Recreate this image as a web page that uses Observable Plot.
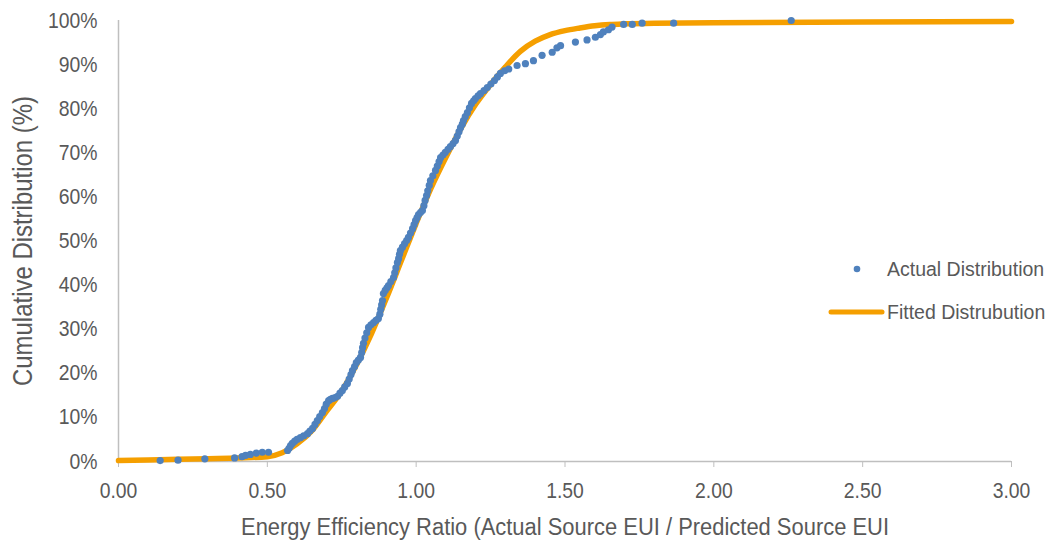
<!DOCTYPE html>
<html>
<head>
<meta charset="utf-8">
<script src="https://cdn.jsdelivr.net/npm/d3@7"></script>
<script src="https://cdn.jsdelivr.net/npm/@observablehq/plot@0.6"></script>
<style>
  html, body { margin: 0; padding: 0; background: #fff; }
  #wrap { position: relative; width: 1049px; height: 541px; font-family: "Liberation Sans", Arial, sans-serif; color: #595959; }
</style>
</head>
<body>
<div id="wrap"></div>
<script>
// Actual distribution (ratio, cumulative %)
const actualX = [0.14,0.20,0.29,0.39,0.415,0.427,0.443,0.463,0.483,0.504,
  0.568,0.573,0.578,0.584,0.592,0.600,0.611,0.622,0.635,0.643,0.652,0.660,0.668,0.676,0.685,0.692,0.698,0.706,0.712,0.719,
  0.728,0.736,0.744,0.752,0.760,0.769,0.775,0.781,0.786,0.793,0.799,0.806,0.813,0.817,0.820,0.823,0.828,0.834,0.840,0.848,
  0.857,0.865,0.873,0.878,0.881,0.884,0.887,0.890,0.896,0.902,0.907,0.915,0.924,0.928,0.932,0.937,0.941,0.944,0.947,0.954,
  0.961,0.968,0.974,0.981,0.988,0.993,0.998,1.003,1.008,1.015,1.021,1.026,1.030,1.035,1.039,1.044,1.048,1.056,1.065,1.071,
  1.077,1.082,1.090,1.098,1.107,1.115,1.124,1.132,1.138,1.144,1.149,1.155,1.159,1.165,1.172,1.179,1.186,1.193,1.199,1.208,
  1.216,1.228,1.239,1.251,1.263,1.273,1.283,1.297,1.311,1.339,1.367,1.394,1.423,1.457,1.473,1.485,1.535,1.574,1.602,1.619,
  1.629,1.646,1.658,1.697,1.726,1.759,1.865,2.26];
const actualY = [0.2,0.3,0.6,0.8,1.1,1.4,1.6,1.9,2.1,2.1,
  2.5,3.0,3.6,4.1,4.6,5.0,5.4,5.8,6.3,6.9,7.5,8.4,9.3,10.2,11.1,12.0,13.0,13.8,14.1,14.3,
  14.5,14.8,15.5,16.1,16.9,17.7,18.7,19.7,20.6,21.5,22.4,23.0,23.6,24.7,25.8,26.8,28.0,29.2,30.4,31.0,
  31.5,32.0,32.4,33.4,34.5,35.5,36.5,38.1,38.8,39.4,39.9,40.8,41.7,42.8,43.9,45.1,46.0,47.0,47.8,48.6,
  49.4,50.1,50.8,51.8,52.8,53.7,54.6,55.3,56.0,56.5,56.9,58.0,59.2,60.3,61.4,62.6,63.7,64.8,66.0,67.0,
  68.0,68.9,69.5,70.1,70.8,71.4,72.1,72.8,73.8,74.8,75.7,76.5,77.3,78.2,79.1,80.2,81.2,81.8,82.3,82.9,
  83.4,84.1,84.8,85.6,86.4,87.2,88.0,88.6,89.0,89.8,90.2,90.9,92.1,92.8,93.8,94.3,95.1,95.6,96.2,96.8,
  97.4,97.9,98.5,99.1,99.1,99.4,99.4,100];

// Fitted distribution (ratio, cumulative %)
const fittedX = [0,0.1,0.2,0.3,0.4,0.5,0.55,0.6,0.65,0.7,0.75,0.8,0.85,0.9,0.95,1.0,1.05,1.1,1.15,1.2,1.25,1.3,1.35,1.4,1.45,1.5,1.55,1.6,1.65,1.7,1.8,2.0,2.5,3.0];
const fittedY = [0.2,0.35,0.5,0.65,0.8,1.1,2.0,4.0,7.0,11.5,16.0,22.0,29.0,37.0,45.5,54.0,62.0,69.0,75.5,81.0,85.5,89.5,93.0,95.3,96.8,97.7,98.3,98.8,99.1,99.25,99.4,99.5,99.65,99.8];

const xTicks = [0,0.5,1.0,1.5,2.0,2.5,3.0];
const yTicks = [0,10,20,30,40,50,60,70,80,90,100];
const xTitle = "Energy Efficiency Ratio (Actual Source EUI / Predicted Source EUI";
const yTitle = "Cumulative Distribution (%)";
const seriesNames = ["Actual Distribution", "Fitted Distrubution"];

const actual = actualX.map((x, i) => ({x, y: actualY[i]}));
const fitted = fittedX.map((x, i) => ({x, y: fittedY[i]}));

const BLUE = "#4f81bd", ORANGE = "#f59f00", GRID = "#bfbfbf", TEXT = "#595959";
const FONT = '"Liberation Sans", Arial, sans-serif';

const chart = Plot.plot({
  width: 1049,
  height: 541,
  marginLeft: 118,
  marginRight: 38,
  marginTop: 20,
  marginBottom: 80,
  style: {fontFamily: FONT, color: TEXT, background: "#fff", overflow: "visible"},
  x: {domain: [0, 3]},
  y: {domain: [0, 100]},
  marks: [
    Plot.ruleY([0], {stroke: GRID, strokeWidth: 1.5}),
    Plot.ruleX([0], {stroke: GRID, strokeWidth: 1.5}),
    Plot.axisX({ticks: xTicks, tickFormat: d3.format(".2f"), tickSize: 6, tickPadding: 15, stroke: GRID, fill: TEXT, fontSize: 22, label: null}),
    Plot.axisY({ticks: yTicks, tickFormat: d => d + "%", tickSize: 0, tickPadding: 21, fill: TEXT, fontSize: 22, label: null}),
    Plot.text([xTitle], {frameAnchor: "bottom", dy: 66, fontSize: 23, fill: TEXT, lineAnchor: "middle", textAnchor: "middle", className: "xtitle"}),
    Plot.text([yTitle], {frameAnchor: "left", dx: -95, rotate: -90, fontSize: 28, fill: TEXT, lineAnchor: "middle", textAnchor: "middle", className: "ytitle"}),
    Plot.line(fitted, {x: "x", y: "y", stroke: ORANGE, strokeWidth: 5.5, curve: "monotone-x", strokeLinecap: "round"}),
    Plot.dot(actual, {x: "x", y: "y", r: 3.6, fill: BLUE, stroke: "none"})
  ]
});

const wrap = document.getElementById("wrap");
wrap.appendChild(chart);

// Narrow the text to mimic a condensed face
function condense(el, factor, fixed) {
  const len = el.getComputedTextLength();
  if (len > 0) {
    el.setAttribute("textLength", fixed != null ? fixed : (len * factor).toFixed(1));
    el.setAttribute("lengthAdjust", "spacingAndGlyphs");
  }
}
wrap.querySelectorAll("text").forEach(t => {
  const g = t.closest("g");
  const cls = g ? (g.getAttribute("class") || "") : "";
  if (cls.includes("xtitle")) condense(t, 0, 648);
  else if (cls.includes("ytitle")) condense(t, 0, 290);
  else condense(t, 0.88);
});

// Legend overlay
const legSvg = d3.select(wrap).append("svg")
  .attr("width", 1049).attr("height", 541)
  .style("position", "absolute").style("left", "0px").style("top", "0px").style("pointer-events", "none");
legSvg.append("circle").attr("cx", 857).attr("cy", 269).attr("r", 3.3).attr("fill", BLUE);
legSvg.append("line").attr("x1", 831).attr("x2", 882).attr("y1", 312).attr("y2", 312)
  .attr("stroke", ORANGE).attr("stroke-width", 5).attr("stroke-linecap", "round");
legSvg.selectAll("text.lt").data(seriesNames).enter().append("text")
  .attr("class", "lt")
  .attr("x", 887).attr("y", (d, i) => i === 0 ? 269 : 312)
  .attr("dy", "0.35em")
  .attr("font-family", FONT).attr("font-size", 19.5).attr("fill", TEXT)
  .text(d => d);
</script>
</body>
</html>
